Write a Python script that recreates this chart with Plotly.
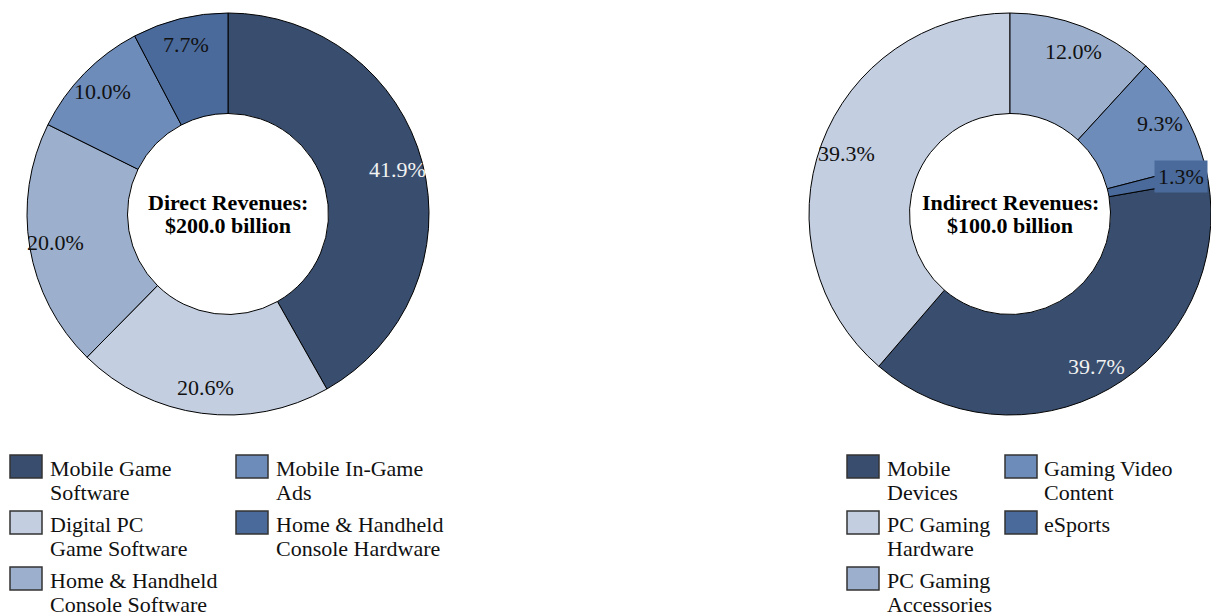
import math
import plotly.graph_objects as go

# ---------------- data ----------------
direct_labels = ["Mobile Game<br>Software", "Digital PC<br>Game Software",
                 "Home & Handheld<br>Console Software", "Mobile In-Game<br>Ads",
                 "Home & Handheld<br>Console Hardware"]
direct_values = [41.9, 20.6, 20.0, 10.0, 7.7]

indirect_labels = ["Mobile<br>Devices", "PC Gaming<br>Hardware", "PC Gaming<br>Accessories",
                   "Gaming Video<br>Content", "eSports"]
indirect_values = [39.7, 39.3, 12.0, 9.3, 1.3]

center_titles = ["Direct Revenues:", "Indirect Revenues:"]
center_totals = ["$200.0 billion", "$100.0 billion"]

colors = ["#394e6e", "#c3cee1", "#9cb0ce", "#6d8cba", "#4a6a9b"]
label_colors = ["#f2f2f2", "#111111", "#111111", "#111111", "#111111"]

# ---------------- layout constants ----------------
W, H = 1211, 616
FONT = "Liberation Serif, Times New Roman, serif"
R = 201
HOLE = 0.5

pies = [
    dict(labels=direct_labels, values=direct_values, cx=228, cy=214,
         start_label=None,
         legend=dict(sw_x=[10, 236], tx=[49, 275])),
    dict(labels=indirect_labels, values=indirect_values, cx=1010, cy=214,
         start_label="PC Gaming<br>Accessories",
         legend=dict(sw_x=[847, 1005], tx=[886, 1043])),
]

def px_x(x):
    return x / W

def px_y(y):
    return 1 - y / H

fig = go.Figure()
annotations = []
shapes = []

for k, p in enumerate(pies):
    vals = p["values"]
    total = sum(vals)
    # rotation so that a chosen slice begins at 12 o'clock
    if p["start_label"] is None:
        rot = 0.0
    else:
        idx = p["labels"].index(p["start_label"])
        rot = 360.0 * sum(vals[idx:]) / total
    fig.add_trace(go.Pie(
        labels=p["labels"], values=vals, hole=HOLE, sort=False,
        direction="clockwise", rotation=rot,
        marker=dict(colors=colors, line=dict(color="#000000", width=1)),
        textinfo="none", hoverinfo="label+value", showlegend=False,
        domain=dict(x=[px_x(p["cx"] - R), px_x(p["cx"] + R)],
                    y=[px_y(p["cy"] + R), px_y(p["cy"] - R)]),
    ))

    # percentage labels at mid-angle of each slice
    cum = 0.0
    for i, v in enumerate(vals):
        mid = math.radians(rot + 360.0 * (cum + v / 2) / total)
        cum += v
        rr = 0.87 * R
        x = p["cx"] + rr * math.sin(mid)
        y = p["cy"] - rr * math.cos(mid)
        small = v / total < 0.03
        annotations.append(dict(
            x=px_x(x), y=px_y(y), xref="paper", yref="paper",
            text=f"{v:.1f}%", showarrow=False,
            xanchor="center", yanchor="middle",
            font=dict(family=FONT, size=22,
                      color="#111111" if small else label_colors[i]),
            bgcolor=colors[i] if small else "rgba(0,0,0,0)",
            borderpad=3 if small else 1,
        ))

    # center text
    for j, t in enumerate([center_titles[k], center_totals[k]]):
        annotations.append(dict(
            x=px_x(p["cx"]), y=px_y(p["cy"] - 11.5 + 23 * j), xref="paper", yref="paper",
            text=f"<b>{t}</b>", showarrow=False, xanchor="center", yanchor="middle",
            font=dict(family=FONT, size=22, color="#000000"),
        ))

    # legend: column-major, 3 rows per column
    lg = p["legend"]
    for i, lab in enumerate(p["labels"]):
        col, row = divmod(i, 3)
        top = 455 + 56 * row
        sx = lg["sw_x"][col]
        shapes.append(dict(
            type="rect", xref="paper", yref="paper",
            x0=px_x(sx), x1=px_x(sx + 32), y0=px_y(top + 23), y1=px_y(top),
            fillcolor=colors[i], line=dict(color="#333333", width=1.5),
        ))
        for li, line in enumerate(lab.split("<br>")):
            annotations.append(dict(
                x=px_x(lg["tx"][col] - 1), y=px_y(top + 13.5 + 24 * li),
                xref="paper", yref="paper", text=line, showarrow=False,
                xanchor="left", yanchor="middle",
                font=dict(family=FONT, size=22, color="#111111"),
            ))

fig.update_layout(
    width=W, height=H,
    margin=dict(l=0, r=0, t=0, b=0),
    paper_bgcolor="#ffffff", plot_bgcolor="#ffffff",
    annotations=annotations, shapes=shapes,
    font=dict(family=FONT),
)

fig.write_html("out.html", config={"displayModeBar": False},
               post_script="document.body.style.margin='0';document.body.style.overflow='hidden';")
